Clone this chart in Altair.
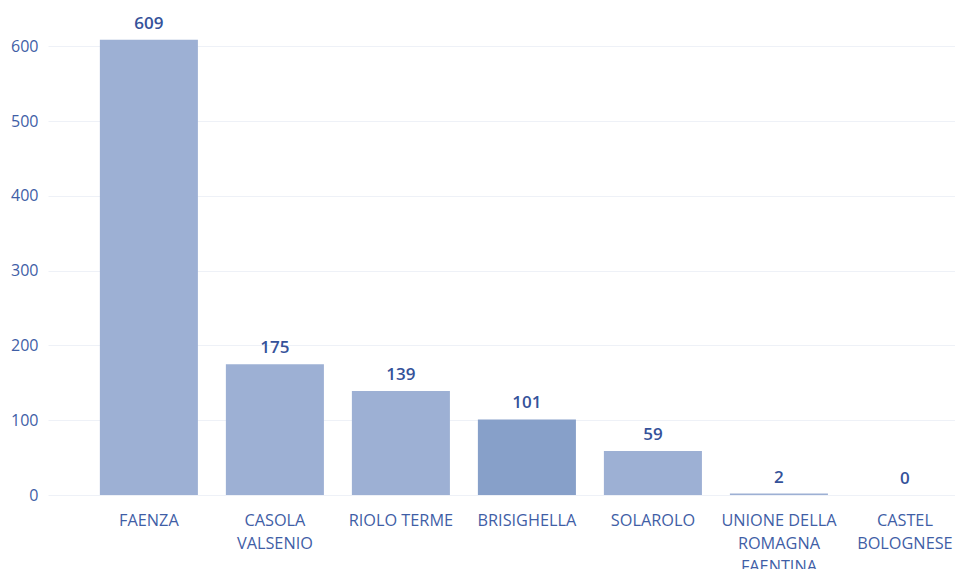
import altair as alt
import pandas as pd

comuni = ["FAENZA", "CASOLA VALSENIO", "RIOLO TERME", "BRISIGHELLA", "SOLAROLO",
          "UNIONE DELLA ROMAGNA FAENTINA", "CASTEL BOLOGNESE"]
valori = [609, 175, 139, 101, 59, 2, 0]
etichette = [["FAENZA"], ["CASOLA", "VALSENIO"], ["RIOLO TERME"], ["BRISIGHELLA"], ["SOLAROLO"],
             ["UNIONE DELLA", "ROMAGNA", "FAENTINA"], ["CASTEL", "BOLOGNESE"]]
evidenziato = "BRISIGHELLA"

df = pd.DataFrame({"comune": comuni, "valore": valori})

mapping = "{" + ",".join(
    "'" + c + "':[" + ",".join("'" + l + "'" for l in lines) + "]"
    for c, lines in zip(comuni, etichette)) + "}"
label_expr = mapping + "[datum.value]"

FONT = "Open Sans"
BLUE = "#3F5EA6"

x = alt.X("comune:N", sort=comuni, title=None,
          scale=alt.Scale(paddingInner=0.222, paddingOuter=0.21, align=0.98, round=False),
          axis=alt.Axis(labelAngle=0, labelExpr=label_expr, labelColor=BLUE,
                        labelFontSize=16.3, labelFont=FONT, labelLineHeight=23,
                        labelPadding=17, ticks=False, domain=False, grid=False,
                        labelBaseline="top"))

y = alt.Y("valore:Q", title=None,
          scale=alt.Scale(domain=[0, 650], nice=False),
          axis=alt.Axis(values=[0, 100, 200, 300, 400, 500, 600], labelColor=BLUE,
                        labelFontSize=16, labelFont=FONT, labelPadding=10,
                        ticks=False, domain=False, gridColor="#EEF1F7", gridWidth=1))

bars = alt.Chart(df).mark_bar().encode(
    x=x, y=y,
    color=alt.condition(alt.datum.comune == evidenziato, alt.value("#87A0C9"), alt.value("#9DB0D4")),
)

text = alt.Chart(df).mark_text(baseline="bottom", dy=-7, fontSize=17, fontWeight=600,
                               font=FONT, color="#35529A").encode(
    x=alt.X("comune:N", sort=comuni),
    y="valore:Q",
    text="valore:Q",
)

chart = (bars + text).properties(
    width=907, height=486,
    autosize=alt.AutoSizeParams(type="none"),
    padding={"left": 40, "top": 1, "right": 0, "bottom": 74},
).configure_view(stroke=None)

chart.save("out.html", embed_options={"renderer": "svg", "actions": False})
